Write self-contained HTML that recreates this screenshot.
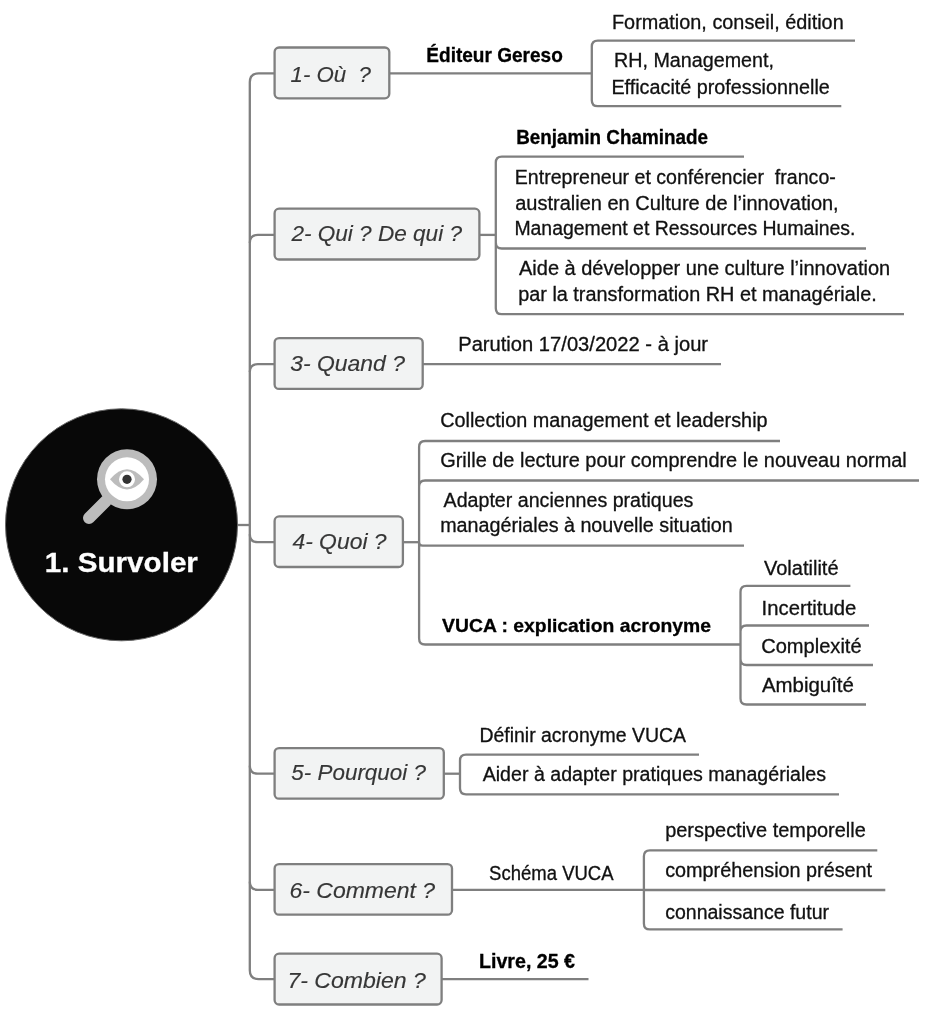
<!DOCTYPE html>
<html><head><meta charset="utf-8"><title>1. Survoler</title>
<style>html,body{margin:0;padding:0;background:#fff;} svg{display:block;will-change:transform;} text{font-family:"Liberation Sans", sans-serif;}</style>
</head><body>
<svg width="928" height="1024" viewBox="0 0 928 1024">
<rect width="928" height="1024" fill="#fff"/>
<path d="M274.6,73.3 H258.8 Q249.8,73.3 249.8,82.3 V970.2 Q249.8,979.2 258.8,979.2 H274.6" fill="none" stroke="#7f7f7f" stroke-width="2.3"/>
<path d="M249.8,242.9 Q249.8,234.9 257.8,234.9 H274.6" fill="none" stroke="#7f7f7f" stroke-width="2.3"/>
<path d="M249.8,372.1 Q249.8,364.1 257.8,364.1 H274.6" fill="none" stroke="#7f7f7f" stroke-width="2.3"/>
<path d="M249.8,534.2 Q249.8,542.2 257.8,542.2 H274.6" fill="none" stroke="#7f7f7f" stroke-width="2.3"/>
<path d="M249.8,765.7 Q249.8,773.7 257.8,773.7 H274.6" fill="none" stroke="#7f7f7f" stroke-width="2.3"/>
<path d="M249.8,881.8 Q249.8,889.8 257.8,889.8 H274.6" fill="none" stroke="#7f7f7f" stroke-width="2.3"/>
<path d="M236,525 H249.8" fill="none" stroke="#7f7f7f" stroke-width="2.3"/>
<path d="M389.3,73.3 H591.8" fill="none" stroke="#7f7f7f" stroke-width="2.3"/>
<path d="M855,40.6 H597.8 Q591.8,40.6 591.8,46.6 V100.2 Q591.8,106.2 597.8,106.2 H841.3" fill="none" stroke="#7f7f7f" stroke-width="2.3"/>
<path d="M479.4,234.9 H495.8" fill="none" stroke="#7f7f7f" stroke-width="2.3"/>
<path d="M744,156.6 H501.8 Q495.8,156.6 495.8,162.6 V308.2 Q495.8,314.2 501.8,314.2 H904 M495.8,242.5 Q495.8,248.5 501.8,248.5 H866" fill="none" stroke="#7f7f7f" stroke-width="2.3"/>
<path d="M422.7,364.1 H721" fill="none" stroke="#7f7f7f" stroke-width="2.3"/>
<path d="M402.9,542.2 H419.1" fill="none" stroke="#7f7f7f" stroke-width="2.3"/>
<path d="M780,441 H425.1 Q419.1,441 419.1,447 V638.5 Q419.1,644.5 425.1,644.5 H740.5 M419.1,486.5 Q419.1,480.5 425.1,480.5 H919 M419.1,542.2 Q419.1,545.7 422.6,545.7 H744" fill="none" stroke="#7f7f7f" stroke-width="2.3"/>
<path d="M850.4,585.9 H746.5 Q740.5,585.9 740.5,591.9 V698.5 Q740.5,704.5 746.5,704.5 H866 M740.5,631.5 Q740.5,625.5 746.5,625.5 H869 M740.5,659.0 Q740.5,665.0 746.5,665.0 H873" fill="none" stroke="#7f7f7f" stroke-width="2.3"/>
<path d="M443.8,773.7 H460" fill="none" stroke="#7f7f7f" stroke-width="2.3"/>
<path d="M699,754.7 H466 Q460,754.7 460,760.7 V788.3 Q460,794.3 466,794.3 H839" fill="none" stroke="#7f7f7f" stroke-width="2.3"/>
<path d="M452.0,889.8 H643.9" fill="none" stroke="#7f7f7f" stroke-width="2.3"/>
<path d="M877.3,850.3 H649.9 Q643.9,850.3 643.9,856.3 V923.4 Q643.9,929.4 649.9,929.4 H842.6 M643.9,890 H885.3" fill="none" stroke="#7f7f7f" stroke-width="2.3"/>
<path d="M441.6,979.2 H588.5" fill="none" stroke="#7f7f7f" stroke-width="2.3"/>
<rect x="274.6" y="47.5" width="114.7" height="50.8" rx="4.5" fill="#f2f3f3" stroke="#7f7f7f" stroke-width="2.3"/>
<rect x="274.6" y="208.7" width="204.8" height="50.8" rx="4.5" fill="#f2f3f3" stroke="#7f7f7f" stroke-width="2.3"/>
<rect x="274.6" y="338.1" width="148.1" height="50.8" rx="4.5" fill="#f2f3f3" stroke="#7f7f7f" stroke-width="2.3"/>
<rect x="274.6" y="516.4" width="128.3" height="50.6" rx="4.5" fill="#f2f3f3" stroke="#7f7f7f" stroke-width="2.3"/>
<rect x="274.6" y="748.1" width="169.2" height="50.6" rx="4.5" fill="#f2f3f3" stroke="#7f7f7f" stroke-width="2.3"/>
<rect x="274.6" y="864.1" width="177.4" height="50.6" rx="4.5" fill="#f2f3f3" stroke="#7f7f7f" stroke-width="2.3"/>
<rect x="274.6" y="953.7" width="167.0" height="50.8" rx="4.5" fill="#f2f3f3" stroke="#7f7f7f" stroke-width="2.3"/>
<circle cx="121.5" cy="524.8" r="116" fill="#080808" stroke="#666" stroke-width="1"/>
<line x1="89" y1="518" x2="106" y2="501" stroke="#bcbcbc" stroke-width="12" stroke-linecap="round"/>
<circle cx="127" cy="479.3" r="30" fill="#bcbcbc"/>
<circle cx="127" cy="479.3" r="22" fill="#fff"/>
<path d="M110,479.3 Q127,459 144,479.3 Q127,499.6 110,479.3 Z" fill="#bcbcbc"/>
<circle cx="127" cy="479.3" r="8" fill="#fff"/>
<circle cx="127" cy="479.3" r="4.6" fill="#333"/>
<text x="290.6" y="81.7" textLength="80.4" lengthAdjust="spacingAndGlyphs" font-weight="normal" font-style="italic" font-size="22.5" fill="#363636" stroke="#363636" stroke-width="0.15" xml:space="preserve">1- Où  ?</text>
<text x="291.4" y="241" textLength="170.6" lengthAdjust="spacingAndGlyphs" font-weight="normal" font-style="italic" font-size="22.5" fill="#363636" stroke="#363636" stroke-width="0.15" xml:space="preserve">2- Qui ? De qui ?</text>
<text x="290.2" y="370.6" textLength="114.8" lengthAdjust="spacingAndGlyphs" font-weight="normal" font-style="italic" font-size="22.5" fill="#363636" stroke="#363636" stroke-width="0.15" xml:space="preserve">3- Quand ?</text>
<text x="292.4" y="549" textLength="94.2" lengthAdjust="spacingAndGlyphs" font-weight="normal" font-style="italic" font-size="22.5" fill="#363636" stroke="#363636" stroke-width="0.15" xml:space="preserve">4- Quoi ?</text>
<text x="291.3" y="779.8" textLength="134.7" lengthAdjust="spacingAndGlyphs" font-weight="normal" font-style="italic" font-size="22.5" fill="#363636" stroke="#363636" stroke-width="0.15" xml:space="preserve">5- Pourquoi ?</text>
<text x="289.5" y="898" textLength="145.6" lengthAdjust="spacingAndGlyphs" font-weight="normal" font-style="italic" font-size="22.5" fill="#363636" stroke="#363636" stroke-width="0.15" xml:space="preserve">6- Comment ?</text>
<text x="287.4" y="988" textLength="138.5" lengthAdjust="spacingAndGlyphs" font-weight="normal" font-style="italic" font-size="22.5" fill="#363636" stroke="#363636" stroke-width="0.15" xml:space="preserve">7- Combien ?</text>
<text x="612.0" y="28.5" textLength="231.7" lengthAdjust="spacingAndGlyphs" font-weight="normal" font-style="normal" font-size="19.5" fill="#111" stroke="#111" stroke-width="0.3" xml:space="preserve">Formation, conseil, édition</text>
<text x="614.0" y="67.2" textLength="160.0" lengthAdjust="spacingAndGlyphs" font-weight="normal" font-style="normal" font-size="19.5" fill="#111" stroke="#111" stroke-width="0.3" xml:space="preserve">RH, Management,</text>
<text x="611.4" y="93.8" textLength="218.4" lengthAdjust="spacingAndGlyphs" font-weight="normal" font-style="normal" font-size="19.5" fill="#111" stroke="#111" stroke-width="0.3" xml:space="preserve">Efficacité professionnelle</text>
<text x="426.3" y="62.4" textLength="136.5" lengthAdjust="spacingAndGlyphs" font-weight="bold" font-style="normal" font-size="19.8" fill="#000" stroke="#000" stroke-width="0.3" xml:space="preserve">Éditeur Gereso</text>
<text x="516.2" y="143.8" textLength="191.8" lengthAdjust="spacingAndGlyphs" font-weight="bold" font-style="normal" font-size="19.8" fill="#000" stroke="#000" stroke-width="0.3" xml:space="preserve">Benjamin Chaminade</text>
<text x="514.8" y="184" textLength="321.0" lengthAdjust="spacingAndGlyphs" font-weight="normal" font-style="normal" font-size="19.5" fill="#111" stroke="#111" stroke-width="0.3" xml:space="preserve">Entrepreneur et conférencier  franco-</text>
<text x="515.2" y="209.8" textLength="323.5" lengthAdjust="spacingAndGlyphs" font-weight="normal" font-style="normal" font-size="19.5" fill="#111" stroke="#111" stroke-width="0.3" xml:space="preserve">australien en Culture de l’innovation,</text>
<text x="514.4" y="235" textLength="341.0" lengthAdjust="spacingAndGlyphs" font-weight="normal" font-style="normal" font-size="19.5" fill="#111" stroke="#111" stroke-width="0.3" xml:space="preserve">Management et Ressources Humaines.</text>
<text x="519.0" y="275" textLength="371.2" lengthAdjust="spacingAndGlyphs" font-weight="normal" font-style="normal" font-size="19.5" fill="#111" stroke="#111" stroke-width="0.3" xml:space="preserve">Aide à développer une culture l’innovation</text>
<text x="518.2" y="301" textLength="358.5" lengthAdjust="spacingAndGlyphs" font-weight="normal" font-style="normal" font-size="19.5" fill="#111" stroke="#111" stroke-width="0.3" xml:space="preserve">par la transformation RH et managériale.</text>
<text x="458.2" y="350.7" textLength="249.9" lengthAdjust="spacingAndGlyphs" font-weight="normal" font-style="normal" font-size="19.5" fill="#111" stroke="#111" stroke-width="0.3" xml:space="preserve">Parution 17/03/2022 - à jour</text>
<text x="440.2" y="426.8" textLength="327.4" lengthAdjust="spacingAndGlyphs" font-weight="normal" font-style="normal" font-size="19.5" fill="#111" stroke="#111" stroke-width="0.3" xml:space="preserve">Collection management et leadership</text>
<text x="440.2" y="467.1" textLength="466.6" lengthAdjust="spacingAndGlyphs" font-weight="normal" font-style="normal" font-size="19.5" fill="#111" stroke="#111" stroke-width="0.3" xml:space="preserve">Grille de lecture pour comprendre le nouveau normal</text>
<text x="443.6" y="507" textLength="249.8" lengthAdjust="spacingAndGlyphs" font-weight="normal" font-style="normal" font-size="19.5" fill="#111" stroke="#111" stroke-width="0.3" xml:space="preserve">Adapter anciennes pratiques</text>
<text x="440.2" y="532.1" textLength="292.5" lengthAdjust="spacingAndGlyphs" font-weight="normal" font-style="normal" font-size="19.5" fill="#111" stroke="#111" stroke-width="0.3" xml:space="preserve">managériales à nouvelle situation</text>
<text x="442.1" y="631.6" textLength="268.9" lengthAdjust="spacingAndGlyphs" font-weight="bold" font-style="normal" font-size="19" fill="#000" stroke="#000" stroke-width="0.3" xml:space="preserve">VUCA : explication acronyme</text>
<text x="763.9" y="574.8" textLength="74.7" lengthAdjust="spacingAndGlyphs" font-weight="normal" font-style="normal" font-size="19.5" fill="#111" stroke="#111" stroke-width="0.3" xml:space="preserve">Volatilité</text>
<text x="761.6" y="614.6" textLength="94.7" lengthAdjust="spacingAndGlyphs" font-weight="normal" font-style="normal" font-size="19.5" fill="#111" stroke="#111" stroke-width="0.3" xml:space="preserve">Incertitude</text>
<text x="761.2" y="652.9" textLength="100.4" lengthAdjust="spacingAndGlyphs" font-weight="normal" font-style="normal" font-size="19.5" fill="#111" stroke="#111" stroke-width="0.3" xml:space="preserve">Complexité</text>
<text x="762.0" y="692.3" textLength="91.9" lengthAdjust="spacingAndGlyphs" font-weight="normal" font-style="normal" font-size="19.5" fill="#111" stroke="#111" stroke-width="0.3" xml:space="preserve">Ambiguîté</text>
<text x="479.4" y="742.3" textLength="206.6" lengthAdjust="spacingAndGlyphs" font-weight="normal" font-style="normal" font-size="19.5" fill="#111" stroke="#111" stroke-width="0.3" xml:space="preserve">Définir acronyme VUCA</text>
<text x="482.7" y="781" textLength="343.3" lengthAdjust="spacingAndGlyphs" font-weight="normal" font-style="normal" font-size="19.5" fill="#111" stroke="#111" stroke-width="0.3" xml:space="preserve">Aider à adapter pratiques managériales</text>
<text x="489.1" y="879.6" textLength="124.5" lengthAdjust="spacingAndGlyphs" font-weight="normal" font-style="normal" font-size="19.5" fill="#111" stroke="#111" stroke-width="0.3" xml:space="preserve">Schéma VUCA</text>
<text x="665.2" y="837" textLength="200.6" lengthAdjust="spacingAndGlyphs" font-weight="normal" font-style="normal" font-size="19.5" fill="#111" stroke="#111" stroke-width="0.3" xml:space="preserve">perspective temporelle</text>
<text x="665.2" y="877" textLength="206.9" lengthAdjust="spacingAndGlyphs" font-weight="normal" font-style="normal" font-size="19.5" fill="#111" stroke="#111" stroke-width="0.3" xml:space="preserve">compréhension présent</text>
<text x="665.2" y="918.8" textLength="163.8" lengthAdjust="spacingAndGlyphs" font-weight="normal" font-style="normal" font-size="19.5" fill="#111" stroke="#111" stroke-width="0.3" xml:space="preserve">connaissance futur</text>
<text x="479.0" y="967.5" textLength="96.0" lengthAdjust="spacingAndGlyphs" font-weight="bold" font-style="normal" font-size="19.8" fill="#000" stroke="#000" stroke-width="0.3" xml:space="preserve">Livre, 25 €</text>
<text x="44.8" y="572" textLength="153.1" lengthAdjust="spacingAndGlyphs" font-weight="bold" font-style="normal" font-size="28.5" fill="#fff" stroke="#fff" stroke-width="0.3" xml:space="preserve">1. Survoler</text>
</svg>
</body></html>
